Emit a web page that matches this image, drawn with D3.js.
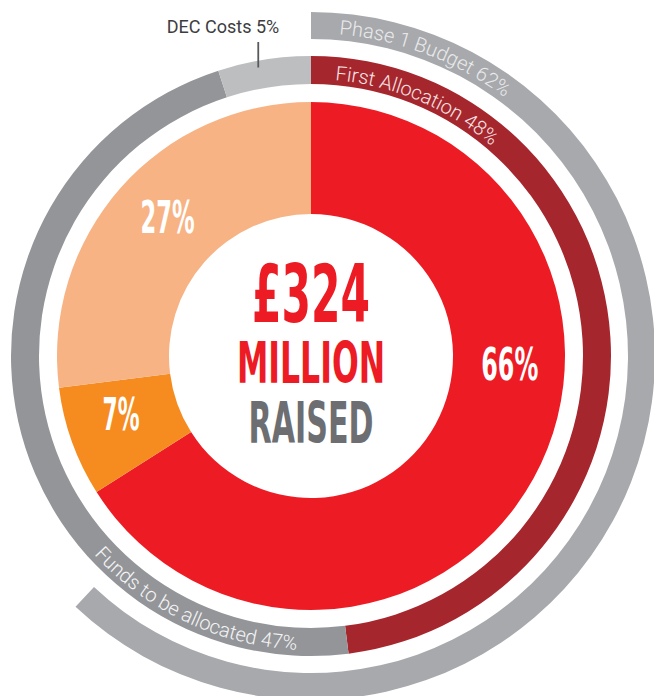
<!DOCTYPE html>
<html><head><meta charset="utf-8">
<script src="https://cdn.jsdelivr.net/npm/d3@7"></script>
<style>html,body{margin:0;padding:0;background:#fff}svg{display:block}</style>
</head><body>
<svg id="chart" width="654" height="696"></svg>
<script>
// ---- data ----
const raisedLabels = ["66%", "7%", "27%"];
const raisedValues = [66, 7, 27];
const raisedColors = ["#ed1c24", "#f68c20", "#f7b383"];

const allocationNames = ["First Allocation", "Funds to be allocated", "DEC Costs"];
const allocationValues = [48, 47, 5];
const allocationColors = ["#a6262e", "#939598", "#bcbec0"];

const budgetNames = ["Phase 1 Budget"];
const budgetValues = [62];
const budgetColors = ["#a7a9ac"];

const centreLines = ["£324", "MILLION", "RAISED"];

// ---- layout ----
const W = 654, H = 696, cx = 311, cy = 356;
const svg = d3.select("#chart");
const g = svg.append("g").attr("transform", `translate(${cx},${cy})`);
const TAU = Math.PI * 2;
const deg = Math.PI / 180;
const share = d3.scaleLinear().domain([0, 100]).range([0, TAU]);
const pie = d3.pie().sort(null).value(d => d).startAngle(0).endAngle(TAU);

const R = {inner: 142, outer: 254, midIn: 272, midOut: 300, budIn: 317, budOut: 344};

// main donut
const mainArc = d3.arc().innerRadius(R.inner).outerRadius(R.outer);
const mainPie = pie(raisedValues);
g.selectAll("path.main").data(mainPie).join("path")
  .attr("class", "main").attr("d", mainArc)
  .attr("fill", (d, i) => raisedColors[i]);

// middle ring
const midArc = d3.arc().innerRadius(R.midIn).outerRadius(R.midOut);
const midPie = pie(allocationValues);
g.selectAll("path.mid").data(midPie).join("path")
  .attr("class", "mid").attr("d", midArc)
  .attr("fill", (d, i) => allocationColors[i]);

// outer ring
const budArc = d3.arc().innerRadius(R.budIn).outerRadius(R.budOut);
let acc = 0;
const budData = budgetValues.map(v => { const d = {startAngle: share(acc), endAngle: share(acc + v)}; acc += v; return d; });
g.selectAll("path.bud").data(budData).join("path")
  .attr("class", "bud").attr("d", budArc)
  .attr("fill", (d, i) => budgetColors[i]);

// helpers for text paths
const pt = (r, a) => [r * Math.sin(a), -r * Math.cos(a)];
function arcPath(r, a0, a1) {
  const p0 = pt(r, a0), p1 = pt(r, a1);
  const large = Math.abs(a1 - a0) > Math.PI ? 1 : 0;
  const sweep = a1 > a0 ? 1 : 0;
  return `M${p0[0]},${p0[1]}A${r},${r} 0 ${large} ${sweep} ${p1[0]},${p1[1]}`;
}
const defs = svg.append("defs");
const arcFont = "Roboto, 'Liberation Sans', Arial, sans-serif";

function curvedLabel(id, r, a0, a1, text, color, anchor) {
  defs.append("path").attr("id", id).attr("d", arcPath(r, a0, a1)).attr("transform", `translate(${cx},${cy})`);
  svg.append("text")
    .attr("font-family", arcFont).attr("font-weight", 300).attr("font-size", 20)
    .attr("fill", color)
    .append("textPath").attr("href", "#" + id)
    .attr("startOffset", anchor === "end" ? "100%" : "0%")
    .attr("text-anchor", anchor === "end" ? "end" : "start")
    .text(text);
}
// budget label: along outer ring, starting just after the segment start
curvedLabel("budPath", 323, budData[0].startAngle + 5 * deg, budData[0].endAngle,
  `${budgetNames[0]} ${budgetValues[0]}%`, "#e9eaeb", "start");
// first allocation label
curvedLabel("allocPath0", 277, midPie[0].startAngle + 5 * deg, midPie[0].endAngle,
  `${allocationNames[0]} ${allocationValues[0]}%`, "#f6e3e3", "start");
// funds to be allocated: along bottom, read left to right (counter-clockwise)
curvedLabel("allocPath1", 294, midPie[1].endAngle - 60 * deg, midPie[1].startAngle + 10 * deg,
  `${allocationNames[1]} ${allocationValues[1]}%`, "#f4f4f5", "end");

// DEC costs label with leader line
const decMid = (midPie[2].startAngle + midPie[2].endAngle) / 2;
const decPt = pt((R.midIn + R.midOut) / 2, decMid);
svg.append("line")
  .attr("x1", cx + decPt[0] - 8).attr("x2", cx + decPt[0] - 8)
  .attr("y1", 42).attr("y2", cy + decPt[1] - 6)
  .attr("stroke", "#58595b").attr("stroke-width", 1.8);
svg.append("text")
  .attr("x", cx + decPt[0] + 13).attr("y", 33)
  .attr("text-anchor", "end")
  .attr("font-family", arcFont).attr("font-weight", 400).attr("font-size", 18)
  .attr("fill", "#3d3d3f")
  .text(`${allocationNames[2]} ${allocationValues[2]}%`);

// percentage labels in main donut
const labelR = 199;
const condensed = "'Liberation Sans Narrow', 'DejaVu Sans Condensed', 'Arial Narrow', sans-serif";
const pctWidths = [57, 37, 54];
g.selectAll("text.pct").data(mainPie).join("text")
  .attr("class", "pct")
  .each(function (d, i) {
    const a = d.value > 50 ? Math.PI / 2 + 2.5 * deg : (d.startAngle + d.endAngle) / 2 + 2.5 * deg;
    const p = pt(labelR, a);
    d3.select(this).attr("x", p[0]).attr("y", p[1] + 15);
  })
  .attr("text-anchor", "middle")
  .attr("font-family", condensed).attr("font-weight", 700).attr("font-size", 44)
  .attr("fill", "#ffffff")
  .attr("textLength", (d, i) => pctWidths[i])
  .attr("lengthAdjust", "spacingAndGlyphs")
  .text((d, i) => raisedLabels[i]);

// centre text
const centreSpecs = [
  {y: -34, size: 80, w: 118, color: "#ed1c24"},
  {y: 27, size: 57, w: 148, color: "#ed1c24"},
  {y: 87, size: 57, w: 125, color: "#6d6e71"}
];
g.selectAll("text.centre").data(centreLines).join("text")
  .attr("class", "centre")
  .attr("x", 0).attr("y", (d, i) => centreSpecs[i].y)
  .attr("text-anchor", "middle")
  .attr("font-family", condensed).attr("font-weight", 700)
  .attr("font-size", (d, i) => centreSpecs[i].size)
  .attr("fill", (d, i) => centreSpecs[i].color)
  .attr("textLength", (d, i) => centreSpecs[i].w)
  .attr("lengthAdjust", "spacingAndGlyphs")
  .text(d => d);
</script>
</body></html>
